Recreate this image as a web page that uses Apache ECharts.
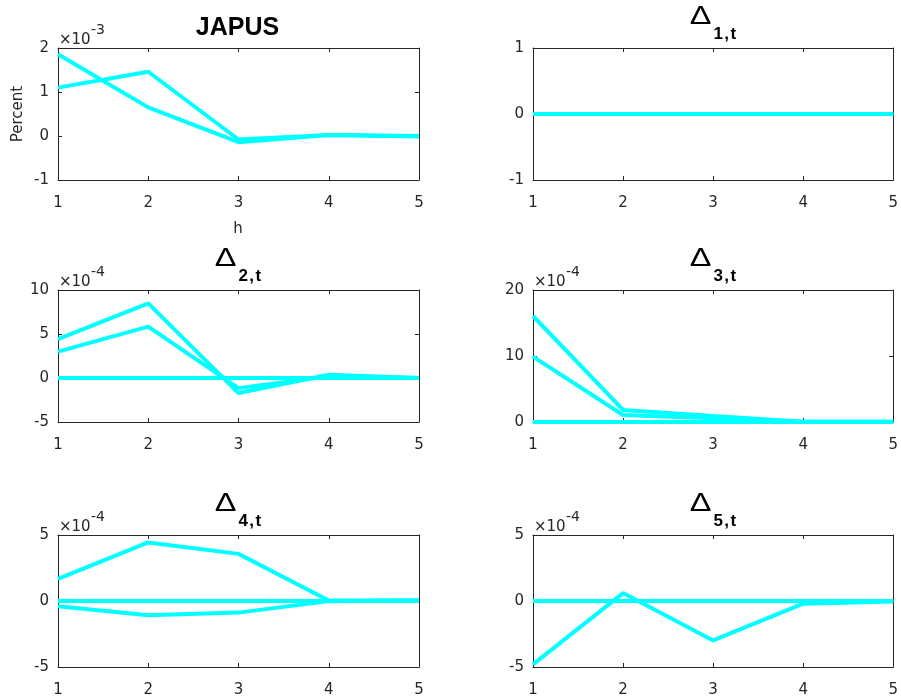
<!DOCTYPE html>
<html><head><meta charset="utf-8">
<script src="https://cdn.jsdelivr.net/npm/echarts@6/dist/echarts.min.js"></script>
<style>html,body{margin:0;padding:0;background:#fff}#c{width:901px;height:700px}</style>
</head><body><div id="c"></div>
<script>
// ---------- data ----------
const horizons = [1, 2, 3, 4, 5];
const panelTitles = ['JAPUS', '1,t', '2,t', '3,t', '4,t', '5,t'];
const exponents = [-3, null, -4, -4, -4, -4];
const yTickValues = [[-1, 0, 1, 2], [-1, 0, 1], [-5, 0, 5, 10], [0, 10, 20], [-5, 0, 5], [-5, 0, 5]];
// values in units of 10^exponent
const japusA  = [1.86, 0.65, -0.14, 0.02, -0.01];
const japusB  = [1.10, 1.46, -0.08, 0.02, 0.00];
const delta1A = [0, 0, 0, 0, 0];
const delta1B = [0, 0, 0, 0, 0];
const delta1C = [0, 0, 0, 0, 0];
const delta2A = [4.41, 8.48, -1.71, 0.37, 0.00];
const delta2B = [3.00, 5.84, -1.15, 0.20, 0.00];
const delta2C = [0, 0, 0, 0, 0];
const delta3A = [16.06, 1.82, 0.90, 0.05, 0.05];
const delta3B = [9.90, 1.06, 0.55, 0.05, 0.05];
const delta3C = [0, 0, 0, 0, 0];
const delta4A = [1.67, 4.44, 3.57, 0.04, 0.06];
const delta4B = [-0.39, -1.08, -0.88, -0.01, 0.04];
const delta4C = [0, 0, 0, 0, 0];
const delta5A = [-4.80, 0.60, -2.99, -0.20, -0.04];
const delta5B = [0, 0, 0, 0, 0];
const delta5C = [0, 0, 0, 0, 0];
const panelSeries = [
  [japusA, japusB],
  [delta1A, delta1B, delta1C],
  [delta2C, delta2A, delta2B],
  [delta3C, delta3A, delta3B],
  [delta4C, delta4A, delta4B],
  [delta5B, delta5C, delta5A]
];

// ---------- layout / style ----------
const LEFTS = [58, 533], TOPS = [48, 290, 535], W = 361, H = 132;
const FONT = '"DejaVu Sans", Verdana, sans-serif';
const TFONT = '"Liberation Sans", Arial, Helvetica, sans-serif';
const AX = '#262626';
const LINE = '#00FFFF';

const grids = [], xAxes = [], yAxes = [], series = [], graphics = [];
const axLine = {show: true, onZero: false, lineStyle: {color: AX, width: 1}};
const axTick = {show: true, inside: true, length: 4, lineStyle: {color: AX, width: 1}};

panelSeries.forEach((list, i) => {
  const col = i % 2, row = Math.floor(i / 2);
  const L = LEFTS[col], T = TOPS[row];
  grids.push({left: L, top: T, width: W, height: H});
  const tk = yTickValues[i];
  const ymin = tk[0], ymax = tk[tk.length - 1], yint = tk[1] - tk[0];
  xAxes.push({gridIndex: i, type: 'value', min: 1, max: 5, interval: 1, position: 'bottom',
    axisLine: axLine, axisTick: axTick, splitLine: {show: false},
    axisLabel: {margin: 16, color: AX, fontSize: 15, fontFamily: FONT}});
  xAxes.push({gridIndex: i, type: 'value', min: 1, max: 5, interval: 1, position: 'top',
    axisLine: axLine, axisTick: axTick, splitLine: {show: false}, axisLabel: {show: false}});
  yAxes.push({gridIndex: i, type: 'value', min: ymin, max: ymax, interval: yint, position: 'left',
    axisLine: axLine, axisTick: axTick, splitLine: {show: false},
    axisLabel: {margin: 9, color: AX, fontSize: 15, fontFamily: FONT}});
  yAxes.push({gridIndex: i, type: 'value', min: ymin, max: ymax, interval: yint, position: 'right',
    axisLine: axLine, axisTick: axTick, splitLine: {show: false}, axisLabel: {show: false}});
  list.forEach(arr => {
    series.push({type: 'line', xAxisIndex: 2 * i, yAxisIndex: 2 * i,
      data: horizons.map((h, k) => [h, arr[k]]),
      symbol: 'none', showSymbol: false, silent: true,
      lineStyle: {color: LINE, width: 4}, itemStyle: {color: LINE}});
  });

  const cx = L + W / 2;
  if (i === 0) {
    graphics.push({type: 'text', x: cx - 1, y: T - 20, style: {text: panelTitles[i],
      font: 'bold 25px ' + TFONT, fill: '#000', textAlign: 'center', textVerticalAlign: 'middle', verticalAlign: 'middle'}});
  } else {
    graphics.push({type: 'text', x: cx - 2, y: T - 31, scaleX: 1.3, style: {text: 'Δ',
      font: '25px ' + TFONT, fill: '#000', textAlign: 'right', textVerticalAlign: 'middle', verticalAlign: 'middle'}});
    graphics.push({type: 'text', x: cx, y: T - 14, style: {text: panelTitles[i].split(',').join('\u200A,\u200A'),
      font: 'bold 17px ' + TFONT, fill: '#000', textAlign: 'left', textVerticalAlign: 'middle', verticalAlign: 'middle'}});
  }
  if (exponents[i] !== null) {
    graphics.push({type: 'text', x: L + 1, y: T - 8, style: {text: '×10',
      font: '15px ' + FONT, fill: AX, textAlign: 'left', textVerticalAlign: 'middle', verticalAlign: 'middle'}});
    graphics.push({type: 'text', x: L + 33, y: T - 18, style: {text: String(exponents[i]),
      font: '14px ' + FONT, fill: AX, textAlign: 'left', textVerticalAlign: 'middle', verticalAlign: 'middle'}});
  }
});

graphics.push({type: 'text', x: 18, y: 114, rotation: Math.PI / 2, style: {text: 'Percent',
  font: '15px ' + FONT, fill: AX, textAlign: 'center', textVerticalAlign: 'middle', verticalAlign: 'middle'}});
graphics.push({type: 'text', x: 238, y: 229, style: {text: 'h',
  font: '15px ' + FONT, fill: AX, textAlign: 'center', textVerticalAlign: 'middle', verticalAlign: 'middle'}});

const chart = echarts.init(document.getElementById('c'), null, {renderer: 'canvas'});
chart.setOption({
  animation: false,
  backgroundColor: '#fff',
  grid: grids, xAxis: xAxes, yAxis: yAxes, series: series, graphic: graphics
});
</script>
</body></html>
